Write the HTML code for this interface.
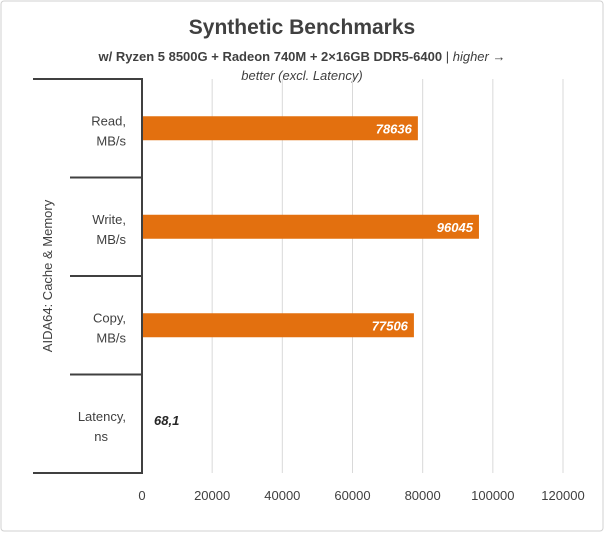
<!DOCTYPE html>
<html><head><meta charset="utf-8"><style>
body{margin:0;background:#fff}
text{font-family:"Liberation Sans Narrow","Liberation Sans",sans-serif}
</style></head><body>
<svg width="605" height="533" xmlns="http://www.w3.org/2000/svg">
<rect x="1" y="1" width="602" height="530" rx="3" fill="#fff" stroke="#d0d0d0"/>
<text x="302" y="34" text-anchor="middle" font-size="21" font-weight="bold" fill="#404040">Synthetic Benchmarks</text>
<text x="302" y="61" text-anchor="middle" font-size="13" fill="#404040"><tspan font-weight="bold">w/ Ryzen 5 8500G + Radeon 740M + 2×16GB DDR5-6400</tspan> | <tspan font-style="italic">higher →</tspan></text>
<text x="302" y="80" text-anchor="middle" font-size="13" font-style="italic" fill="#404040">better (excl. Latency)</text>
<g id="grid"></g>
<g id="bars"></g>
<g id="axes"></g>
<text transform="translate(52,276) rotate(-90)" text-anchor="middle" font-size="13" fill="#404040">AIDA64: Cache &amp; Memory</text>
</svg>
<script>
const categories=[["Read,","MB/s"],["Write,","MB/s"],["Copy,","MB/s"],["Latency,","ns"]];
const values=[78636,96045,77506,68.1];
const labels=["78636","96045","77506","68,1"];
const ticks=[0,20000,40000,60000,80000,100000,120000];
const NS="http://www.w3.org/2000/svg";
const x0=142,x1=563,y0=79,y1=473,xmax=120000;
const xs=v=>x0+(v/xmax)*(x1-x0);
const band=(y1-y0)/categories.length;
function mk(tag,at,parent,txt){const e=document.createElementNS(NS,tag);for(const k in at)e.setAttribute(k,at[k]);if(txt!==undefined)e.textContent=txt;document.getElementById(parent).appendChild(e);return e;}
ticks.forEach((t,i)=>{
 if(t>0){const g=mk('line',{x1:xs(t),x2:xs(t),y1:y0,y2:y1,stroke:'#d9d9d9','stroke-width':1},'grid');
 
 }
 const l=mk('text',{x:xs(t),y:500,'text-anchor':'middle','font-size':13,fill:'#404040'},'axes',String(t));
 
 
});
categories.forEach((c,i)=>{
 const yc=y0+band*(i+0.5);
 const h=24;
 if(values[i]>0){
  const r=mk('rect',{x:x0,y:yc-h/2,width:xs(values[i])-x0,height:h,fill:'#e3700f'},'bars');
  
  
 }
 const w=xs(values[i])-x0;
 const inside=w>60;
 const vl=mk('text',{x:inside?xs(values[i])-6:x0+12,y:inside?yc+5:yc+1,'text-anchor':inside?'end':'start','font-size':13,'font-weight':'bold','font-style':'italic',fill:inside?'#fff':'#262626'},'bars',labels[i]);
 
 
 const cl=mk('text',{x:126,y:yc-3,'text-anchor':'end','font-size':13,fill:'#404040'},'axes');
 
 
 c.forEach((s,j)=>{const t=document.createElementNS(NS,'tspan');t.setAttribute('x',(i==3&&j==1)?108:126);t.setAttribute('dy',j?20:0);t.textContent=s;cl.appendChild(t);});
 if(i>0){const s=mk('line',{x1:70,x2:x0,y1:y0+band*i,y2:y0+band*i,stroke:'#404040','stroke-width':2},'axes');
 
 }
});
[y0,y1].forEach(y=>{const s=mk('line',{x1:33,x2:x0,y1:y,y2:y,stroke:'#404040','stroke-width':2},'axes');

});
const ax=mk('line',{x1:x0,x2:x0,y1:y0-1,y2:y1+1,stroke:'#404040','stroke-width':2},'axes');


</script>
</body></html>
